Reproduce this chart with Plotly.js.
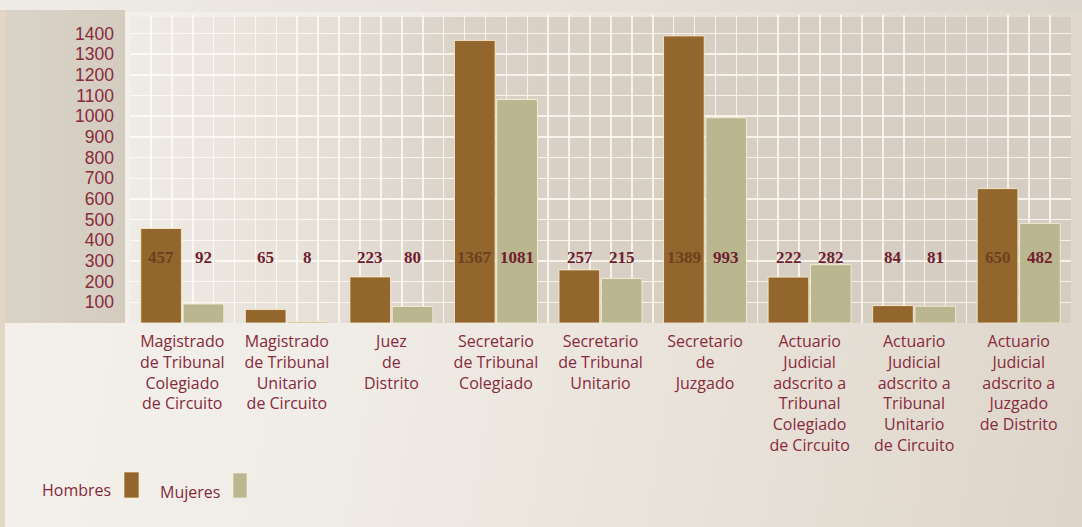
<!DOCTYPE html>
<html>
<head>
<meta charset="utf-8">
<script src="https://cdn.plot.ly/plotly-3.0.1.min.js"></script>
<style>
  html, body { margin:0; padding:0; width:1082px; height:527px; overflow:hidden; }
  #wrap { position:relative; width:1082px; height:527px; }
  #bg { position:absolute; left:0; top:0; width:1082px; height:527px;
        background: linear-gradient(100deg, #f4f1ec 0%, #f0ece6 35%, #e6dfd5 75%, #ddd5ca 100%); }
  #topband { position:absolute; left:0; top:0; width:1082px; height:12px;
        background: linear-gradient(to right, #efebe6 0%, #e6e0d8 60%, #dcd5cb 100%); }
  #strip { position:absolute; left:0; top:10px; width:5px; height:517px; background:#e3d6c4; }
  #panel { position:absolute; left:5px; top:10px; width:120px; height:313px;
        background: linear-gradient(to right, #dad3c8 0%, #d4ccbf 100%); }
  #plotbg { position:absolute; left:130px; top:17px; width:941px; height:306px;
        background: linear-gradient(to right, #efebe5 0%, #e7e1d9 18%, #dad2c7 36%, #d7cfc4 60%, #d5cdc2 100%); }
  #chart { position:absolute; left:0; top:0; width:1082px; height:527px; }
</style>
</head>
<body>
<div id="wrap">
  <div id="bg"></div>
  <div id="topband"></div>
  <div id="strip"></div>
  <div id="panel"></div>
  <div id="plotbg"></div>
  <div id="chart"></div>
</div>
<script>
// ---- data ----
const categories = [
  "Magistrado<br>de Tribunal<br>Colegiado<br>de Circuito",
  "Magistrado<br>de Tribunal<br>Unitario<br>de Circuito",
  "Juez<br>de<br>Distrito",
  "Secretario<br>de Tribunal<br>Colegiado",
  "Secretario<br>de Tribunal<br>Unitario",
  "Secretario<br>de<br>Juzgado",
  "Actuario<br>Judicial<br>adscrito a<br>Tribunal<br>Colegiado<br>de Circuito",
  "Actuario<br>Judicial<br>adscrito a<br>Tribunal<br>Unitario<br>de Circuito",
  "Actuario<br>Judicial<br>adscrito a<br>Juzgado<br>de Distrito"
];
const hombres = [457, 65, 223, 1367, 257, 1389, 222, 84, 650];
const mujeres = [92, 8, 80, 1081, 215, 993, 282, 81, 482];
const seriesNames = ["Hombres", "Mujeres"];
const yTickVals = [100, 200, 300, 400, 500, 600, 700, 800, 900, 1000, 1100, 1200, 1300, 1400];

// ---- style ----
const W = 1082, H = 527;
const M = { l: 130, r: 11, t: 15, b: 204 };
const colH = "#93662e", colM = "#bab68f";
const textCol = "#872a3c";
const labelY = 315;

const pw = W - M.l - M.r, ph = H - M.t - M.b;
const px2x = p => (p - M.l) / pw;
const py2y = p => (H - M.b - p) / ph;

const traces = [
  { type: "bar", name: seriesNames[0], x: categories, y: hombres,
    marker: { color: colH, line: { color: "rgba(250,236,205,0.85)", width: 1 } },
    hoverinfo: "y", showlegend: false },
  { type: "bar", name: seriesNames[1], x: categories, y: mujeres,
    marker: { color: colM, line: { color: "rgba(250,240,215,0.85)", width: 1 } },
    hoverinfo: "y", showlegend: false },
  { type: "scatter", x: [0], y: [0], xaxis: "x2", mode: "markers",
    marker: { opacity: 0 }, hoverinfo: "skip", showlegend: false }
];

const annotations = [];
categories.forEach((c, i) => {
  annotations.push({ x: c, y: labelY, xref: "x", yref: "y", xshift: -21, showarrow: false,
    text: String(hombres[i]),
    font: { family: "Liberation Serif", size: 17, weight: 700, color: hombres[i] > labelY ? "#6e3f1f" : "#6f2030" } });
  annotations.push({ x: c, y: labelY, xref: "x", yref: "y", xshift: 21, showarrow: false,
    text: String(mujeres[i]),
    font: { family: "Liberation Serif", size: 17, weight: 700, color: "#6f2030" } });
});
// custom legend (text before swatch)
annotations.push({ x: px2x(40), y: py2y(490), xref: "paper", yref: "paper", xanchor: "left", yanchor: "middle",
  showarrow: false, text: seriesNames[0], font: { family: "Open Sans", size: 16, color: textCol } });
annotations.push({ x: px2x(158), y: py2y(492), xref: "paper", yref: "paper", xanchor: "left", yanchor: "middle",
  showarrow: false, text: seriesNames[1], font: { family: "Open Sans", size: 16, color: textCol } });

const shapes = [
  { type: "rect", xref: "paper", yref: "paper", x0: px2x(124), x1: px2x(139), y0: py2y(498), y1: py2y(472),
    fillcolor: colH, line: { color: "rgba(250,236,205,0.7)", width: 1 } },
  { type: "rect", xref: "paper", yref: "paper", x0: px2x(233), x1: px2x(247), y0: py2y(498), y1: py2y(473),
    fillcolor: colM, line: { color: "rgba(250,240,215,0.7)", width: 1 } }
];

const gridCol = "rgba(255,252,246,0.78)";
const layout = {
  width: W, height: H,
  margin: M,
  paper_bgcolor: "rgba(0,0,0,0)",
  plot_bgcolor: "rgba(0,0,0,0)",
  barmode: "group",
  bargap: 0.19,
  bargroupgap: 0.04,
  showlegend: false,
  xaxis: {
    type: "category",
    showgrid: false, zeroline: false, showline: false,
    ticks: "", ticklabelstandoff: 7,
    tickfont: { family: "Open Sans", size: 16, color: textCol }
  },
  xaxis2: {
    overlaying: "x", range: [0, 45], dtick: 1, showgrid: true,
    gridcolor: gridCol, gridwidth: 1.6,
    showticklabels: false, zeroline: false, showline: false, ticks: "", side: "bottom"
  },
  yaxis: {
    range: [0, 1490],
    tickvals: yTickVals,
    showgrid: true, gridcolor: gridCol, gridwidth: 1.6,
    zeroline: false, showline: false, ticks: "",
    ticklabelstandoff: 15,
    tickfont: { family: "Liberation Sans", size: 17.5, color: textCol }
  },
  annotations: annotations,
  shapes: shapes
};

Plotly.newPlot("chart", traces, layout, { displayModeBar: false, staticPlot: true });
</script>
</body>
</html>
